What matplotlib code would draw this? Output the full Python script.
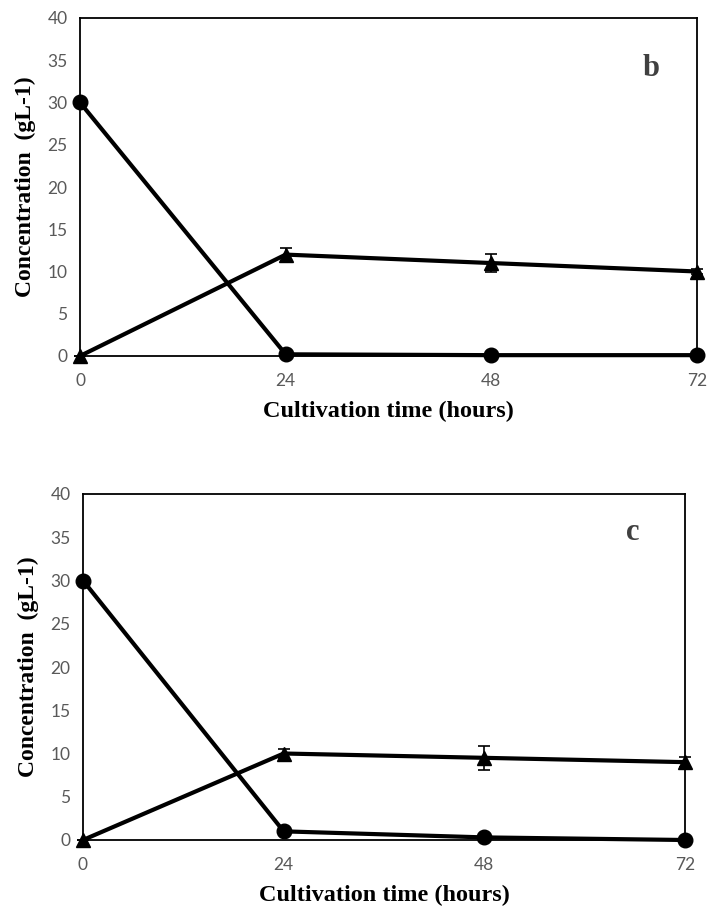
import matplotlib
matplotlib.use("Agg")
import matplotlib.pyplot as plt

hours = [0, 24, 48, 72]
x_ticks = [0, 24, 48, 72]
y_ticks = [0, 5, 10, 15, 20, 25, 30, 35, 40]

# panel b
b_circle = [30.0, 0.2, 0.1, 0.1]
b_triangle = [0.0, 12.0, 11.0, 10.0]
b_triangle_err = [0.0, 0.8, 1.1, 0.3]

# panel c
c_circle = [30.0, 1.0, 0.3, 0.0]
c_triangle = [0.0, 10.0, 9.5, 9.0]
c_triangle_err = [0.0, 0.5, 1.4, 0.6]

fig = plt.figure(figsize=(7.10, 9.09), dpi=100)

panels = [
    ([80/710, 1-356/909, (697-80)/710, (356-18)/909], b_circle, b_triangle, b_triangle_err, "b", (651, 68)),
    ([83/710, 1-840/909, (685-83)/710, (840-494)/909], c_circle, c_triangle, c_triangle_err, "c", (633, 533)),
]

tick_font = "Lato"
serif = "Liberation Serif"

for rect, circ, tri, tri_err, letter, lpos in panels:
    ax = fig.add_axes(rect)
    ax.plot(hours, circ, color="black", lw=3, marker="o", ms=10.5, clip_on=False, zorder=3)
    ax.errorbar(hours, tri, yerr=tri_err, color="black", lw=3, marker="^", ms=10.5,
                capsize=4, elinewidth=1.2, capthick=1.2, clip_on=False, zorder=3)
    ax.set_xlim(0, 72)
    ax.set_ylim(0, 40)
    ax.set_xticks(x_ticks)
    ax.set_yticks(y_ticks)
    ax.tick_params(axis="y", length=0, pad=9, labelsize=12.5, labelcolor="#595959")
    ax.tick_params(axis="x", length=0, pad=12, labelsize=12.5, labelcolor="#595959")
    for lab in ax.get_xticklabels() + ax.get_yticklabels():
        lab.set_fontfamily(tick_font)
    for s in ax.spines.values():
        s.set_linewidth(1.3)
        s.set_color("black")
    ax.set_xlabel("Cultivation time (hours)", fontsize=17.5, fontweight="bold",
                  fontfamily=serif, labelpad=9)
    ax.set_ylabel("Concentration  (gL-1)", fontsize=17, fontweight="bold",
                  fontfamily=serif, labelpad=8)
    fig.text(lpos[0]/710, 1-lpos[1]/909, letter, fontsize=22, fontweight="bold",
             fontfamily=serif, color="#404040", ha="center", va="center")

fig.savefig("out.png", dpi=100)
